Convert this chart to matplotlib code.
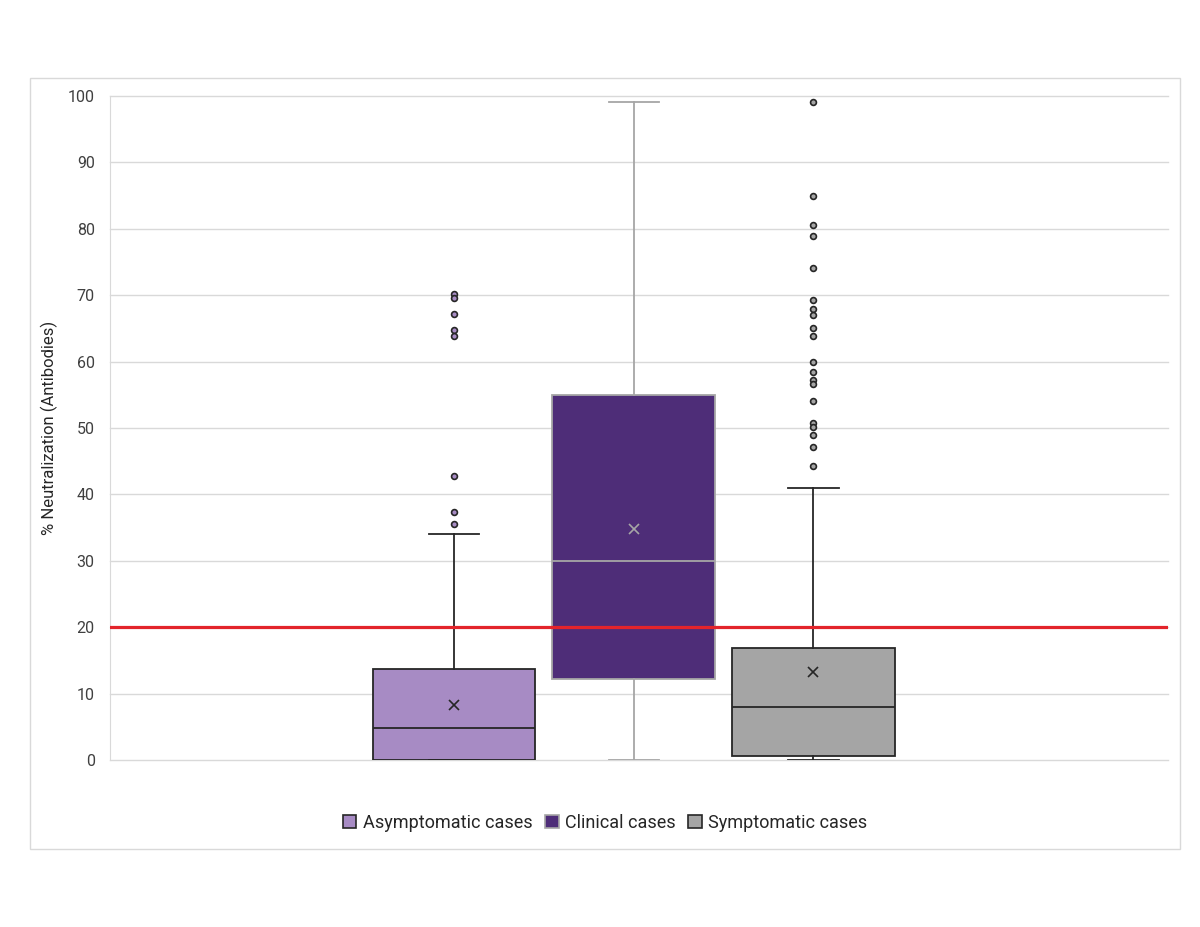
import numpy as np
import matplotlib.pyplot as plt
from matplotlib.patches import Patch, Rectangle

plt.rcParams['font.family'] = ['Roboto', 'DejaVu Sans']

# ---- data ----
groups = ['Asymptomatic cases', 'Clinical cases', 'Symptomatic cases']
whislo = [0.0, 0.0, 0.0]
q1 = [0.0, 12.2, 0.6]
med = [4.8, 30.0, 8.0]
q3 = [13.7, 55.0, 16.9]
whishi = [34.0, 99.1, 41.0]
means = [8.3, 34.8, 13.3]
fliers_asym = [70.2, 69.6, 67.2, 64.7, 63.9, 42.8, 37.4, 35.5]
fliers_clin = []
fliers_symp = [99.1, 85.0, 80.5, 78.9, 74.1, 69.3, 67.9, 67.0, 65.0, 63.9,
               60.0, 58.4, 57.2, 56.6, 54.1, 50.8, 50.2, 48.9, 47.2, 44.3]
threshold = 20

fills = ['#A78BC4', '#4E2D78', '#A5A5A5']
edges = ['#262626', '#A6A6A6', '#262626']
flier_fill = ['#A78BC4', '#4E2D78', '#A5A5A5']

fig = plt.figure(figsize=(12, 9.27), dpi=100)
ax = fig.add_axes([110/1200, 1 - 760/927, (1168-110)/1200, (760-96)/927])

all_fliers = [fliers_asym, fliers_clin, fliers_symp]
for i in range(3):
    st = dict(med=med[i], q1=q1[i], q3=q3[i], whislo=whislo[i], whishi=whishi[i],
              mean=means[i], fliers=all_fliers[i])
    ax.bxp([st], positions=[i], widths=0.905, patch_artist=True, showmeans=True,
           boxprops=dict(facecolor=fills[i], edgecolor=edges[i], linewidth=1.3),
           medianprops=dict(color=edges[i], linewidth=1.3),
           whiskerprops=dict(color=edges[i], linewidth=1.3),
           capprops=dict(color=edges[i], linewidth=1.3),
           capwidths=0.28,
           meanprops=dict(marker='x', markeredgecolor=edges[i], markersize=7,
                          markeredgewidth=1.2),
           flierprops=dict(marker='o', markerfacecolor=flier_fill[i],
                           markeredgecolor='#262626', markersize=4.2,
                           markeredgewidth=1.2),
           zorder=3)

ax.axhline(threshold, color='#E3242B', linewidth=2.3, zorder=5)

ax.set_xlim(-1.914, 3.973)
ax.set_ylim(0, 100)
ax.set_yticks(np.arange(0, 101, 10))
ax.set_xticks([])
ax.yaxis.grid(True, color='#D9D9D9', linewidth=1)
for gl in ax.get_ygridlines():
    gl.set_clip_on(False)
ax.set_axisbelow(True)
for s in ['top', 'right', 'bottom']:
    ax.spines[s].set_visible(False)
ax.spines['left'].set_color('#D9D9D9')
ax.tick_params(axis='y', length=0, labelsize=11.5, labelcolor='#404040', pad=11)
ax.set_ylabel('% Neutralization (Antibodies)', fontsize=12, color='#262626', labelpad=7)

handles = [Patch(facecolor=fills[i], edgecolor=edges[i] if i != 1 else '#A6A6A6',
                 linewidth=1.2, label=groups[i]) for i in range(3)]
fig.legend(handles=handles, loc='center', bbox_to_anchor=(605/1200, 1 - 823/927),
           ncol=3, frameon=False, fontsize=13, handlelength=0.75, handleheight=0.75,
           handletextpad=0.35, columnspacing=0.7, labelcolor='#262626')

fig.patches.append(Rectangle((30/1200, 1 - 849/927), 1150/1200, (849-78)/927,
                             transform=fig.transFigure, fill=False,
                             edgecolor='#D9D9D9', linewidth=1))

fig.savefig('out.png', dpi=100)
